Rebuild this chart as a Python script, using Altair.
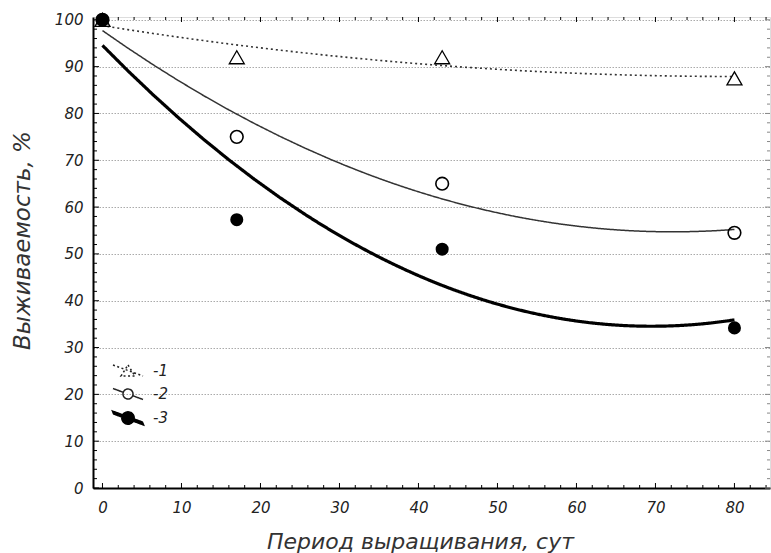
import altair as alt
import pandas as pd

# Survival (%) of three groups over the growing period (days)
days = [0, 17, 43, 80]
survival_1 = [100, 92, 92, 87.5]
survival_2 = [100, 75, 65, 54.5]
survival_3 = [100, 57.3, 51, 34.2]
series_names = ["1", "2", "3"]

# axis tick values
x_major = list(range(0, 81, 10))
x_minor = [v for v in range(0, 85, 2) if v % 10]
y_major = list(range(0, 101, 10))
y_minor = [v for v in range(0, 101, 2) if v % 10]

x_title = "Период выращивания, сут"
y_title = "Выживаемость, %"

W, H = 677, 471
FONT = "DejaVu Sans"

rows = []
for name, vals in zip(series_names, [survival_1, survival_2, survival_3]):
    for d, v in zip(days, vals):
        rows.append({"series": name, "x": d, "y": v})
df = pd.DataFrame(rows)

xs = alt.Scale(domain=[-1.2, 84.5], nice=False, zero=False)
ys = alt.Scale(domain=[0, 100.6], nice=False, zero=False)

XA = alt.Axis(
    values=x_major, title=x_title, grid=False, ticks=False,
    domainColor="black", domainWidth=2, labelFlush=False,
    labelFont=FONT, labelFontSize=15, labelFontStyle="italic",
    labelColor="#222", labelPadding=12,
    titleFont=FONT, titleFontSize=22, titleFontStyle="italic",
    titleFontWeight="normal", titleColor="#333",
    titleX=327, titleY=53, titleAlign="center", titleBaseline="middle",
)
YA = alt.Axis(
    values=y_major, title=y_title, grid=True, gridDash=[1.5, 1.5],
    gridColor="#aaa", gridWidth=1, ticks=False,
    domainColor="black", domainWidth=2, labelFlush=False,
    labelFont=FONT, labelFontSize=15, labelFontStyle="italic",
    labelColor="#222", labelPadding=10,
    titleFont=FONT, titleFontSize=23, titleFontStyle="italic",
    titleFontWeight="normal", titleColor="#333", titleAngle=-90,
    titleX=-71, titleY=223, titleAlign="center", titleBaseline="middle",
)


def X(field):
    return alt.X(field, scale=xs, axis=XA)


def Y(field):
    return alt.Y(field, scale=ys, axis=YA)


base = alt.Chart(df)


def fit_curve(name, dash, width, color):
    return (
        base.transform_filter(alt.datum.series == name)
        .transform_regression("x", "y", method="poly", order=2, extent=[0, 80])
        .mark_line(color=color, strokeWidth=width, strokeDash=dash, clip=True)
        .encode(x=X("x:Q"), y=Y("y:Q"))
    )


def markers(name, shape, filled, size, sw):
    return (
        base.transform_filter(alt.datum.series == name)
        .mark_point(shape=shape, filled=filled, color="black", size=size,
                    strokeWidth=sw, opacity=1)
        .encode(x=X("x:Q"), y=Y("y:Q"))
    )


def x_ticks(values, top, length):
    y0, y1 = (0, length) if top else (H, H - length)
    return (
        alt.Chart(pd.DataFrame({"x": values}))
        .mark_rule(color="black", strokeWidth=1)
        .encode(x=X("x:Q"), y=alt.value(y0), y2=alt.value(y1))
    )


def y_ticks(values, right, length, color="black"):
    x0, x1 = (W, W - length) if right else (0, length)
    return (
        alt.Chart(pd.DataFrame({"y": values}))
        .mark_rule(color=color, strokeWidth=1)
        .encode(y=Y("y:Q"), x=alt.value(x0), x2=alt.value(x1))
    )


# legend symbols: a short slanted line segment with the marker in its middle
tri_path = "M-1.5,-0.6L1.5,0.5M0,-0.6L0.7,0.5L-0.7,0.5Z"
circ_path = ("M-1.5,-0.55L-0.47,-0.17M0.47,0.17L1.5,0.55"
             "M0.5,0A0.5,0.5 0 1,1 -0.5,0A0.5,0.5 0 1,1 0.5,0Z")
# thick segment as a filled band, plus a filled dot
dot_path = ("M-1.56,-0.7L1.44,0.4L1.56,0.7L-1.44,-0.4Z"
            "M0.62,0A0.62,0.62 0 1,1 -0.62,0A0.62,0.62 0 1,1 0.62,0Z")

legend_spec = alt.Legend(
    title=None, orient="none", legendX=24, legendY=343,
    labelExpr="'-' + datum.label", symbolSize=400,
    labelFont=FONT, labelFontSize=15, labelFontStyle="italic", labelColor="#222",
    labelOffset=14, rowPadding=4, padding=0,
)


def series_scale(values):
    return alt.Scale(domain=series_names, range=values)


legend_layer = (
    base.transform_filter("false")
    .mark_point(opacity=1)
    .encode(
        x=X("x:Q"),
        y=Y("y:Q"),
        shape=alt.Shape("series:N", scale=series_scale([tri_path, circ_path, dot_path]),
                        legend=legend_spec),
        fill=alt.Fill("series:N", scale=series_scale(["transparent", "transparent", "black"]),
                      legend=legend_spec),
        stroke=alt.Stroke("series:N", scale=series_scale(["#222", "#222", "black"]),
                          legend=legend_spec),
        strokeDash=alt.StrokeDash("series:N", scale=series_scale([[2, 2.5], [1, 0], [1, 0]]),
                                  legend=legend_spec),
    )
)

chart = alt.layer(
    fit_curve("1", [2, 3], 1.6, "#333"),
    fit_curve("2", [1, 0], 1.5, "#333"),
    fit_curve("3", [1, 0], 3.2, "black"),
    markers("1", "triangle-up", False, 225, 1.3),
    markers("2", "circle", False, 160, 1.6),
    markers("3", "circle", True, 170, 1),
    x_ticks(x_minor, False, 3), x_ticks(x_major, False, 5),
    x_ticks(x_minor, True, 3), x_ticks(x_major, True, 5),
    y_ticks(y_minor, False, 4), y_ticks(y_major, False, 6),
    y_ticks(y_minor, True, 3, "#888"), y_ticks(y_major, True, 5, "#888"),
    legend_layer,
).properties(
    width=W, height=H,
    autosize=alt.AutoSizeParams(type="none"),
    padding={"left": 93, "top": 17, "right": 1, "bottom": 65},
).configure_view(
    stroke="#222", strokeWidth=1.5
).configure(background="white")

chart.save("out.html", embed_options={"renderer": "svg", "actions": False})
